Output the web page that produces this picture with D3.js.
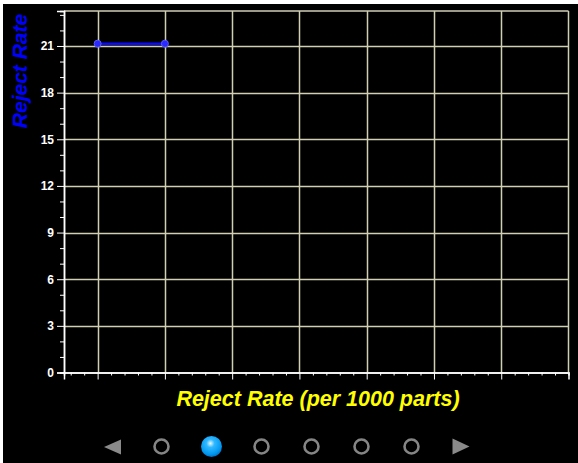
<!DOCTYPE html>
<html>
<head>
<meta charset="utf-8">
<script src="https://cdn.jsdelivr.net/npm/d3@7"></script>
<style>
  html, body { margin: 0; padding: 0; background: #fff; }
  svg { display: block; }
</style>
</head>
<body>
<svg id="chart" width="578" height="463"></svg>
<script>
const W = 578, H = 463;

// data
const xValues = [1, 2];
const rejectRate = [21.15, 21.15];
const yTicks = [0, 3, 6, 9, 12, 15, 18, 21];
const xTicks = [1, 2, 3, 4, 5, 6, 7];
const navDots = [0, 1, 2, 3, 4, 5];
const activeDot = 1;

const m = { left: 64, right: 568.5, top: 11, bottom: 372.5 };

const svg = d3.select("#chart");

// black panel, thin white margin at top/left
svg.append("rect").attr("x", 3).attr("y", 4)
  .attr("width", W - 3).attr("height", H - 4).attr("fill", "#000");

const x = d3.scaleLinear().domain([0.5, 8]).range([m.left, m.right]);
const y = d3.scaleLinear().domain([0, 23.25]).range([m.bottom, m.top]);

const gridCol = "#cfcfb4";
const g = svg.append("g");

// grid
g.selectAll(".hg").data(yTicks.filter(d => d > 0)).join("line")
  .attr("x1", m.left).attr("x2", m.right)
  .attr("y1", d => Math.round(y(d)) + 0.5).attr("y2", d => Math.round(y(d)) + 0.5)
  .attr("stroke", gridCol).attr("stroke-width", 1.5);
g.selectAll(".vg").data(xTicks).join("line")
  .attr("y1", m.top).attr("y2", m.bottom)
  .attr("x1", d => Math.round(x(d)) + 0.5).attr("x2", d => Math.round(x(d)) + 0.5)
  .attr("stroke", gridCol).attr("stroke-width", 1.5);
// top and right frame
g.append("line").attr("x1", m.left).attr("x2", m.right)
  .attr("y1", m.top).attr("y2", m.top).attr("stroke", gridCol).attr("stroke-width", 1.5);
g.append("line").attr("x1", m.right).attr("x2", m.right)
  .attr("y1", m.top).attr("y2", m.bottom).attr("stroke", gridCol).attr("stroke-width", 1.5);

// y axis
const yAxis = svg.append("g").attr("transform", `translate(${m.left},0)`)
  .call(d3.axisLeft(y).tickValues(yTicks).tickSize(7).tickPadding(3).tickFormat(d3.format("d")));
const yMinor = svg.append("g").attr("transform", `translate(${m.left},0)`)
  .call(d3.axisLeft(y).tickValues(d3.range(0, 24).filter(d => d % 3 !== 0)).tickSize(4).tickFormat(""));

// x axis
const xAxis = svg.append("g").attr("transform", `translate(0,${m.bottom})`)
  .call(d3.axisBottom(x).tickValues(xTicks).tickSize(7).tickFormat(""));
const minorX = d3.range(0.6, 8, 0.2).map(d => +d.toFixed(1)).filter(d => Math.abs(d - Math.round(d)) > 0.01);
const xMinor = svg.append("g").attr("transform", `translate(0,${m.bottom})`)
  .call(d3.axisBottom(x).tickValues(minorX).tickSize(3).tickFormat(""));

[yAxis, yMinor, xAxis, xMinor].forEach(a => {
  a.selectAll(".domain").attr("stroke", "#fff").attr("stroke-width", 1.5);
  a.selectAll(".tick line").attr("stroke", "#fff").attr("stroke-width", 1);
});
yAxis.selectAll(".tick text")
  .attr("fill", "#fff")
  .attr("font-family", "Liberation Sans, Arial, sans-serif")
  .attr("font-weight", "bold")
  .attr("font-size", 12);

// series
const line = d3.line().x((d, i) => x(xValues[i])).y(d => y(d));
svg.append("path").datum(rejectRate)
  .attr("d", line).attr("fill", "none")
  .attr("stroke", "#0a0aff").attr("stroke-width", 2.5);
svg.selectAll(".pt").data(rejectRate).join("circle")
  .attr("cx", (d, i) => x(xValues[i])).attr("cy", d => y(d))
  .attr("r", 3.5).attr("fill", "#2a2aff").attr("stroke", "#5a5aff").attr("stroke-width", 1);

// titles
svg.append("text")
  .attr("transform", `translate(27,71) rotate(-90)`)
  .attr("text-anchor", "middle")
  .attr("fill", "#0000ff")
  .attr("font-family", "Liberation Sans, Arial, sans-serif")
  .attr("font-weight", "bold").attr("font-style", "italic")
  .attr("font-size", 21)
  .text("Reject Rate");

svg.append("text")
  .attr("x", 318).attr("y", 406)
  .attr("text-anchor", "middle")
  .attr("fill", "#ffff00")
  .attr("font-family", "Liberation Sans, Arial, sans-serif")
  .attr("font-weight", "bold").attr("font-style", "italic")
  .attr("font-size", 21.5)
  .text("Reject Rate (per 1000 parts)");

// pager at the bottom
const defs = svg.append("defs");
const grad = defs.append("radialGradient").attr("id", "ball")
  .attr("cx", "45%").attr("cy", "35%").attr("r", "65%");
grad.append("stop").attr("offset", "0%").attr("stop-color", "#e8f8ff");
grad.append("stop").attr("offset", "30%").attr("stop-color", "#30b8ff");
grad.append("stop").attr("offset", "80%").attr("stop-color", "#0098f0");
grad.append("stop").attr("offset", "100%").attr("stop-color", "#0070c8");

const navY = 446.5;
const navX = d3.scaleLinear().domain([0, 5]).range([161.5, 411.5]);
svg.append("path")
  .attr("d", `M104,${navY + 0.5} L121,${navY - 7} L121,${navY + 8} Z`)
  .attr("fill", "#8a8a8a");
svg.append("path")
  .attr("d", `M469.5,${navY} L452.5,${navY - 8} L452.5,${navY + 8} Z`)
  .attr("fill", "#8a8a8a");
svg.selectAll(".dot").data(navDots).join("circle")
  .attr("cx", d => navX(d)).attr("cy", navY)
  .attr("r", d => d === activeDot ? 10.5 : 7)
  .attr("fill", d => d === activeDot ? "url(#ball)" : "none")
  .attr("stroke", d => d === activeDot ? "none" : "#858585")
  .attr("stroke-width", 2.6);
</script>
</body>
</html>
